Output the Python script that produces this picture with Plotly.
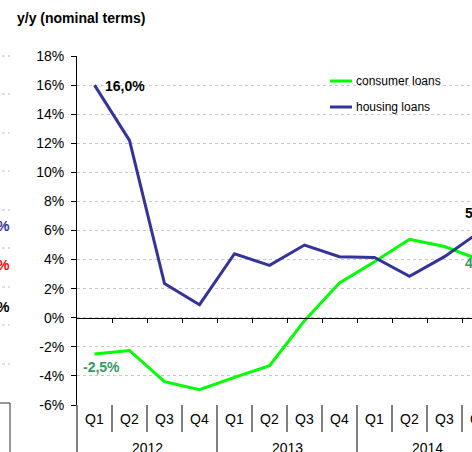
import plotly.graph_objects as go

# ---- data ----
quarters = ["Q1", "Q2", "Q3", "Q4", "Q1", "Q2", "Q3", "Q4", "Q1", "Q2", "Q3", "Q4"]
years = ["2012", "2013", "2014"]
consumer = [-2.5, -2.25, -4.4, -4.95, -4.1, -3.3, -0.2, 2.4, 3.85, 5.4, 4.9, 4.0]
housing = [16.0, 12.2, 2.35, 0.9, 4.4, 3.6, 5.0, 4.2, 4.15, 2.85, 4.2, 5.9]
y_ticks = [-6, -4, -2, 0, 2, 4, 6, 8, 10, 12, 14, 16, 18]

GREEN = "#00FF00"
BLUE = "#333399"
LABEL_GREEN = "#339966"
FONT = "Liberation Sans, Arial, sans-serif"

W, H = 472, 452
L, R, T, B = 77, 472, 56, 405  # plot area in pixels
PW, PH = R - L, B - T
CAT_W = 35.0
XMIN = -0.5
XMAX = XMIN + PW / CAT_W
YMIN, YMAX = -6, 18


def px(xp):
    return (xp - L) / PW


def py(yp):
    return (B - yp) / PH


def cat_paper(i):
    return (i - XMIN) / (XMAX - XMIN)


def val_pix(v):
    return B - (v - YMIN) / (YMAX - YMIN) * PH


n = len(quarters)
xs = list(range(n))

fig = go.Figure()
fig.add_trace(go.Scatter(x=xs, y=consumer, mode="lines", name="consumer loans",
                         line=dict(color=GREEN, width=3)))
fig.add_trace(go.Scatter(x=xs, y=housing, mode="lines", name="housing loans",
                         line=dict(color=BLUE, width=3)))

shapes = []
annotations = []

# extend y axis line down through the category label area
shapes.append(dict(type="line", xref="paper", yref="paper", x0=0, x1=0,
                   y0=0, y1=py(H), line=dict(color="black", width=1)))

# category separators in label area
for b in range(1, n + 1):
    xb = cat_paper(b - 0.5)
    is_year = (b % 4 == 0)
    y_end = H if is_year else 432
    shapes.append(dict(type="line", xref="paper", yref="paper", x0=xb, x1=xb,
                       y0=0, y1=py(y_end), line=dict(color="black", width=1)))

# quarter labels
for i, q in enumerate(quarters):
    annotations.append(dict(x=cat_paper(i), y=py(419), xref="paper", yref="paper",
                            text=q, showarrow=False, xanchor="center", yanchor="middle",
                            font=dict(family=FONT, size=14, color="black")))
# year labels
for j, yr in enumerate(years):
    annotations.append(dict(x=cat_paper(4 * j + 1.5), y=py(448), xref="paper", yref="paper",
                            text=yr, showarrow=False, xanchor="center", yanchor="middle",
                            font=dict(family=FONT, size=14, color="black")))


def fmt(v):
    return f"{v:.1f}".replace(".", ",") + "%"


# data labels
annotations.append(dict(x=cat_paper(0), y=py(val_pix(housing[0])), xref="paper", yref="paper",
                        text="<b>" + fmt(housing[0]) + "</b>", showarrow=False,
                        xanchor="left", yanchor="middle", xshift=8, yshift=-1,
                        font=dict(family=FONT, size=14, color="black")))
annotations.append(dict(x=cat_paper(0), y=py(val_pix(consumer[0])), xref="paper", yref="paper",
                        text="<b>" + fmt(consumer[0]) + "</b>", showarrow=False,
                        xanchor="center", yanchor="middle", xshift=7, yshift=-13,
                        font=dict(family=FONT, size=14, color=LABEL_GREEN)))
annotations.append(dict(x=cat_paper(n - 1), y=py(val_pix(housing[-1])), xref="paper", yref="paper",
                        text="<b>" + fmt(housing[-1]) + "</b>", showarrow=False,
                        xanchor="left", yanchor="middle", xshift=-16, yshift=19,
                        font=dict(family=FONT, size=14, color="black")))
annotations.append(dict(x=cat_paper(n - 1), y=py(val_pix(consumer[-1])), xref="paper", yref="paper",
                        text="<b>" + fmt(consumer[-1]) + "</b>", showarrow=False,
                        xanchor="left", yanchor="middle", xshift=-16, yshift=-3,
                        font=dict(family=FONT, size=14, color=LABEL_GREEN)))

# manual legend
for k, (name, col) in enumerate([("consumer loans", GREEN), ("housing loans", BLUE)]):
    yy = 81 + 26 * k
    shapes.append(dict(type="line", xref="paper", yref="paper", x0=px(330), x1=px(352),
                       y0=py(yy), y1=py(yy), line=dict(color=col, width=3)))
    annotations.append(dict(x=px(354), y=py(yy), xref="paper", yref="paper", text=name,
                            showarrow=False, xanchor="left", yanchor="middle",
                            font=dict(family=FONT, size=12, color="black")))

# title
annotations.append(dict(x=px(15), y=py(18), xref="paper", yref="paper",
                        text="<b>y/y (nominal terms)</b>", showarrow=False,
                        xanchor="left", yanchor="middle",
                        font=dict(family=FONT, size=14, color="black")))

# remnants of neighbouring chart on the left
for txt, col, yy in [("%", BLUE, 226), ("%", "#FF0000", 265), ("%", "black", 307)]:
    annotations.append(dict(x=px(12), y=py(yy), xref="paper", yref="paper",
                            text="<b>" + txt + "</b>", showarrow=False,
                            xanchor="right", yanchor="middle",
                            font=dict(family=FONT, size=14, color=col)))
for yy in [56, 94, 133, 171, 210, 248, 287, 325, 364]:
    shapes.append(dict(type="line", xref="paper", yref="paper", x0=px(2), x1=px(10),
                       y0=py(yy), y1=py(yy), line=dict(color="#c0c0c0", width=1, dash="dot")))
shapes.append(dict(type="line", xref="paper", yref="paper", x0=px(0), x1=px(10),
                   y0=py(403), y1=py(403), line=dict(color="#333333", width=1)))
shapes.append(dict(type="line", xref="paper", yref="paper", x0=px(10), x1=px(10),
                   y0=py(403), y1=py(H), line=dict(color="#333333", width=1)))

fig.update_layout(
    width=W, height=H,
    margin=dict(l=L, r=W - R, t=T, b=H - B, pad=0),
    paper_bgcolor="white", plot_bgcolor="white",
    showlegend=False,
    font=dict(family=FONT, size=14, color="black"),
    shapes=shapes, annotations=annotations,
    xaxis=dict(range=[XMIN, XMAX], anchor="free",
               position=(0 - YMIN) / (YMAX - YMIN),
               showline=True, linecolor="black", linewidth=1,
               showgrid=False, zeroline=False,
               tickmode="array", tickvals=[b + 0.5 for b in range(n)],
               ticktext=["" for _ in range(n)],
               ticks="outside", ticklen=4, tickcolor="black"),
    yaxis=dict(range=[YMIN, YMAX], tickmode="array", tickvals=y_ticks,
               ticktext=[f"{v}%" for v in y_ticks],
               showline=True, linecolor="black", linewidth=1,
               ticks="outside", ticklen=5, tickcolor="black",
               ticklabelstandoff=4,
               showgrid=True, gridcolor="#c8c8c8", griddash="dot", gridwidth=1,
               zeroline=False,
               tickfont=dict(family=FONT, size=14, color="black")),
)

fig.write_html(
    "out.html",
    config={"displayModeBar": False},
    post_script="document.body.style.margin='0px';document.body.style.overflow='hidden';",
)
